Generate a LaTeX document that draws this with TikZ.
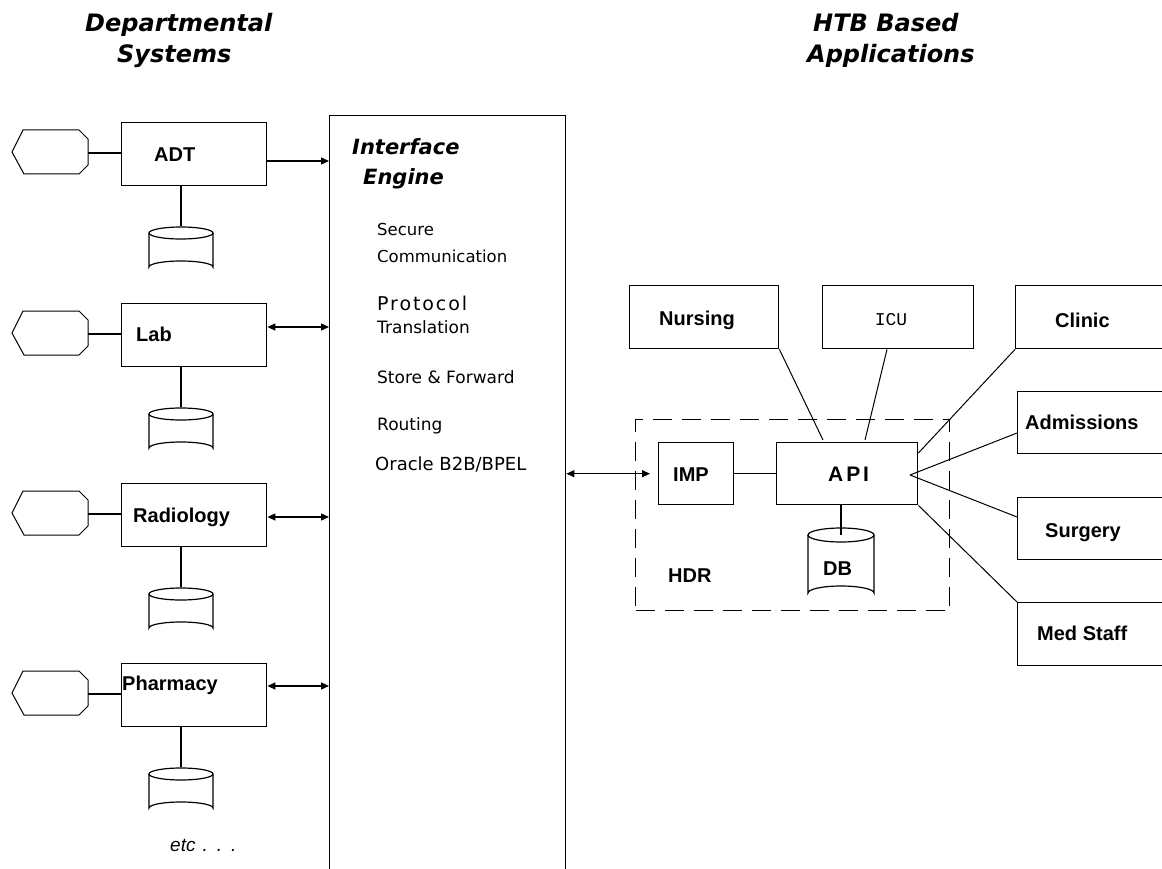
\documentclass[tikz,border=0pt]{standalone}
\usepackage{fontspec}
\setmainfont{Liberation Sans}
\newfontfamily\djv{DejaVu Sans}
\newfontfamily\libmono{Liberation Mono}
\usetikzlibrary{arrows.meta}
\newcommand\fs[1]{\fontsize{#1}{#1}\selectfont}
\newcommand\deptrow[6]{%
  \node[box, minimum width=145pt, minimum height=63pt] (#1) at (121,#2) {};
  \node[lbl] (#1-t) at (#4,#2+#5) {#3};
  \coordinate (#1-hex) at (88,#2+31);
  \draw[hexline] (12,#2+30) -- (23,#2+8) -- (79,#2+8) -- (88,#2+17) -- (88,#2+43) -- (79,#2+52) -- (24,#2+52) -- cycle;
  \draw[conn] (#1-hex) -- (#1.west |- #1-hex);
  \coordinate (#1-db) at (181,#2+111);
  \coordinate (#1-dbt) at (181,#2+104);
  \draw[conn] (#1.south -| #1-dbt) -- (#1-dbt);
  \draw[cyl] (149,#2+111) -- (149,#2+145) arc[start angle=180, end angle=0, x radius=32pt, y radius=6pt] -- (213,#2+111);
  \draw[cyl] (#1-db) ellipse [x radius=32pt, y radius=6pt];
  \coordinate (#1-a) at (0,#2+#6);
}
\begin{document}
\begin{tikzpicture}[x=1pt,y=-1pt,
  box/.style={draw, line width=1.4pt, inner sep=0pt, anchor=north west},
  lbl/.style={anchor=base west, inner sep=0pt, font=\fs{20}\bfseries},
  eng/.style={anchor=base west, inner sep=0pt, font=\djv\fs{17}},
  hdr/.style={anchor=base west, inner sep=0pt, font=\djv\fs{24}\bfseries\itshape},
  conn/.style={line width=1.4pt},
  thinl/.style={line width=1pt},
  hexline/.style={line width=1pt},
  cyl/.style={line width=1.2pt},
  arr/.style={line width=1.3pt, -{Triangle[length=8pt,width=7pt]}},
  darr/.style={line width=1.3pt, {Triangle[length=8pt,width=7pt]}-{Triangle[length=8pt,width=7pt]}},
]
\clip (0,0) rectangle (1162,869);
\fill[white] (0,0) rectangle (1162,869);

% headers
\node[hdr] (h1) at (85,32) {Departmental};
\node[hdr] (h2) at (117,63) {Systems};
\node[hdr] (h3) at (813,32) {HTB Based};
\node[hdr] (h4) at (807,63) {Applications};

% interface engine
\node[box, minimum width=236pt, minimum height=800pt] (engine) at (329,115) {};
\node[anchor=base west, inner sep=0pt, font=\djv\fs{21}\bfseries\itshape] (e1) at (352,155) {Interface};
\node[anchor=base west, inner sep=0pt, font=\djv\fs{21}\bfseries\itshape] (e2) at (363,185) {Engine};
\node[eng, font=\djv\fs{16.5}] (e3) at (377,236) {Secure};
\node[eng, font=\djv\fs{16.5}] (e4) at (377,262) {Communication};
\node[eng, font=\djv\fs{19}\addfontfeature{LetterSpace=10}] (e5) at (377,310) {Protocol};
\node[eng] (e6) at (377,333) {Translation};
\node[eng] (e7) at (377,383) {Store \& Forward};
\node[eng] (e8) at (377,430) {Routing};
\node[eng, font=\djv\fs{18}] (e9) at (375,470) {Oracle B2B/BPEL};

% departmental rows
\deptrow{adt}{122}{ADT}{154}{40}{39}
\deptrow{lab}{303}{Lab}{136}{38}{24}
\deptrow{rad}{483}{Radiology}{133}{39}{34}
\deptrow{pha}{663}{Pharmacy}{122}{27}{23}

\draw[arr] (adt.east |- adt-a) -- (engine.west |- adt-a);
\draw[darr] (lab.east |- lab-a) -- (engine.west |- lab-a);
\draw[darr] (rad.east |- rad-a) -- (engine.west |- rad-a);
\draw[darr] (pha.east |- pha-a) -- (engine.west |- pha-a);

\node[anchor=base west, inner sep=0pt, font=\fs{19}\itshape] (etc) at (170,851) {etc\hspace{7pt}.\hspace{9pt}.\hspace{9pt}.};

% HTB side
\node[box, minimum width=149pt, minimum height=63pt] (nursing) at (629,285) {};
\node[lbl] (nursing-t) at (659,325) {Nursing};
\node[box, minimum width=151pt, minimum height=63pt] (icu) at (822,285) {};
\node[anchor=base, inner sep=0pt, font=\libmono\fs{18}] (icu-t) at (891,325) {ICU};
\node[box, minimum width=160pt, minimum height=63pt] (clinic) at (1015,285) {};
\node[lbl] (clinic-t) at (1055,327) {Clinic};
\node[box, minimum width=160pt, minimum height=62pt] (adm) at (1017,391) {};
\node[lbl] (adm-t) at (1025,429) {Admissions};
\node[box, minimum width=160pt, minimum height=62pt] (surg) at (1017,497) {};
\node[lbl] (surg-t) at (1045,537) {Surgery};
\node[box, minimum width=160pt, minimum height=63pt] (med) at (1017,602) {};
\node[lbl] (med-t) at (1037,640) {Med Staff};

\node[box, dash pattern=on 19pt off 10pt, minimum width=314pt, minimum height=191pt] (hdr) at (635,419) {};
\node[box, minimum width=75pt, minimum height=62pt] (imp) at (658,442) {};
\node[lbl] (imp-t) at (673,481) {IMP};
\node[box, minimum width=141pt, minimum height=62pt] (api) at (776,442) {};
\node[anchor=base west, inner sep=0pt, font=\fs{21}\bfseries\addfontfeature{LetterSpace=14}] (api-t) at (828,481) {API};
\node[lbl] (hdr-t) at (668,582) {HDR};

% DB cylinder
\coordinate (dbtop) at (841,535);
\draw[cyl] (808,535) -- (808,593) arc[start angle=180, end angle=0, x radius=33pt, y radius=7pt] -- (874,535);
\draw[cyl] (dbtop) ellipse [x radius=33pt, y radius=7pt];
\node[lbl] (db-t) at (823,575) {DB};
\draw[conn] (api.south -| dbtop) -- (dbtop);

\draw[conn] (imp.east) -- (api.west);
\draw[darr] (engine.east |- imp.west) -- ([xshift=-8pt]imp.west);

\coordinate (apihub) at (910,475);
\draw[thinl] (nursing.south east) -- ([xshift=47pt,yshift=2pt]api.north west);
\draw[thinl] ([xshift=65pt]icu.south west) -- ([xshift=89pt,yshift=2pt]api.north west);
\draw[thinl] (clinic.south west) -- ([yshift=-11pt]api.north east);
\draw[thinl] ([yshift=-42pt]adm.north west) -- (apihub);
\draw[thinl] ([yshift=-20pt]surg.north west) -- (apihub);
\draw[thinl] (api.south east) -- (med.north west);
\end{tikzpicture}
\end{document}
